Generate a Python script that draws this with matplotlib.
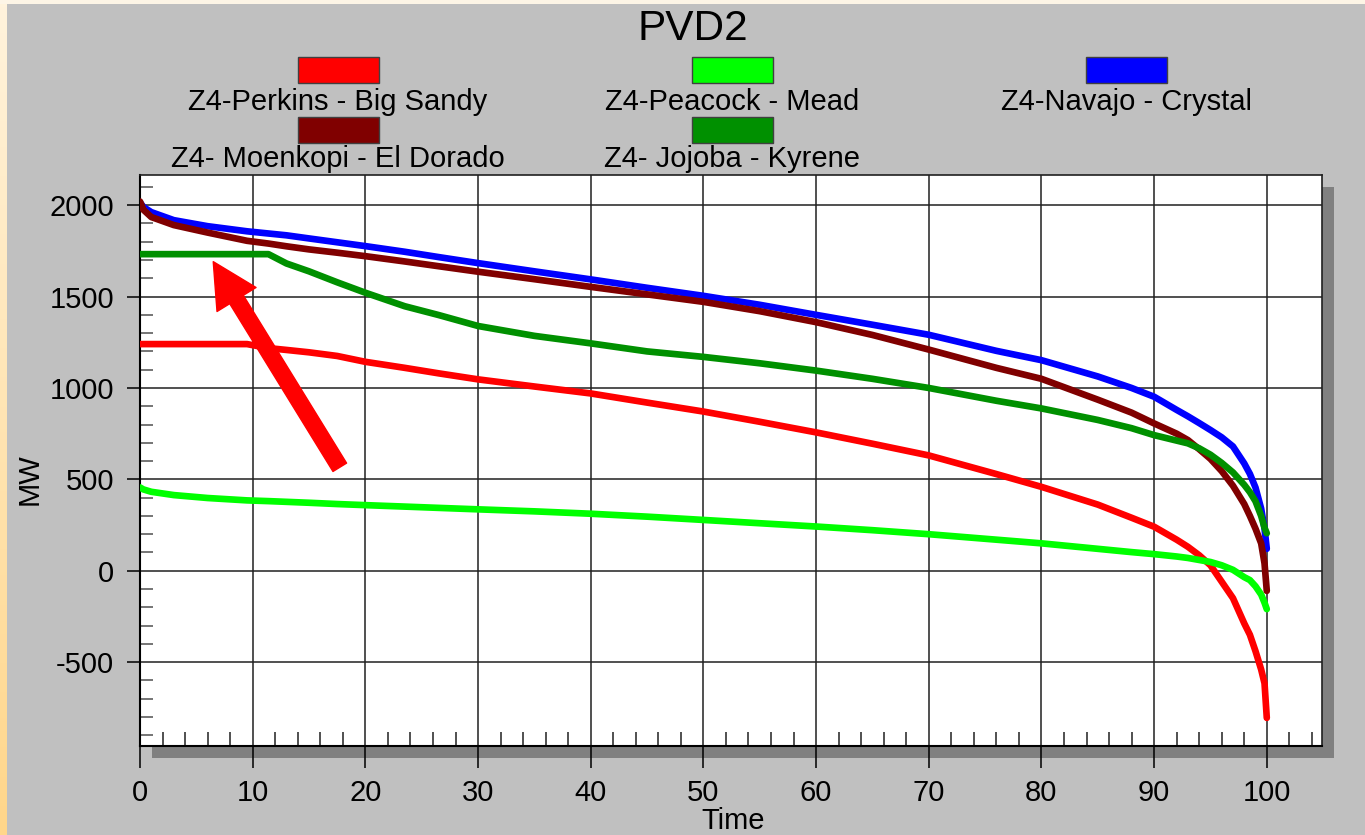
import numpy as np
import matplotlib
matplotlib.use("Agg")
import matplotlib.pyplot as plt
from matplotlib.patches import Rectangle
from matplotlib.ticker import MultipleLocator
from matplotlib.colors import LinearSegmentedColormap

plt.rcParams['font.family'] = ['Liberation Sans', 'DejaVu Sans']
plt.rcParams['axes.unicode_minus'] = False

# ---------------- data ----------------
time_pct = [0, 0.3, 1, 3, 6, 9.5, 11.4, 13, 15, 17.5, 20, 23.5, 26.5, 30, 35, 40,
            45, 50, 55, 60, 65, 70, 76, 80, 85, 88, 90, 92, 93, 94, 95, 96, 97,
            98, 98.5, 99, 99.5, 99.8, 100]

perkins_big_sandy = [1240, 1240, 1240, 1240, 1240, 1240, 1218, 1208, 1195, 1175,
                     1143, 1110, 1080, 1047, 1008, 970, 920, 871, 815, 757, 695,
                     631, 529, 459, 362, 290, 241, 170, 131, 85, 30, -60, -150,
                     -288, -350, -440, -540, -616, -805]

peacock_mead = [456, 445, 432, 414, 398, 385, 381, 377, 372, 365, 359, 351, 344,
                336, 325, 312, 296, 278, 260, 242, 222, 200, 170, 150, 120, 102,
                91, 78, 70, 59, 48, 30, 5, -35, -51, -85, -130, -175, -210]

navajo_crystal = [2015, 1990, 1962, 1918, 1885, 1857, 1845, 1835, 1818, 1797,
                  1776, 1745, 1716, 1683, 1638, 1594, 1548, 1504, 1455, 1400,
                  1346, 1291, 1203, 1152, 1063, 1000, 952, 880, 845, 808, 770,
                  730, 680, 587, 530, 455, 340, 230, 120]

moenkopi_el_dorado = [2020, 1975, 1935, 1891, 1850, 1805, 1790, 1775, 1758, 1740,
                      1721, 1692, 1666, 1636, 1595, 1553, 1512, 1471, 1420, 1360,
                      1290, 1210, 1110, 1050, 936, 865, 806, 750, 715, 665, 612,
                      545, 465, 365, 300, 230, 150, 40, -110]

jojoba_kyrene = [1732, 1732, 1732, 1732, 1732, 1732, 1732, 1681, 1638, 1578,
                 1521, 1447, 1399, 1339, 1285, 1244, 1200, 1170, 1135, 1095,
                 1050, 1000, 930, 888, 825, 780, 742, 712, 697, 670, 635, 590,
                 538, 470, 430, 380, 300, 235, 205]

series_names = ["Z4-Perkins - Big Sandy", "Z4-Peacock - Mead", "Z4-Navajo - Crystal",
                "Z4- Moenkopi - El Dorado", "Z4- Jojoba - Kyrene"]
series_values = [perkins_big_sandy, peacock_mead, navajo_crystal,
                 moenkopi_el_dorado, jojoba_kyrene]
series_colors = ["#ff0000", "#00ff00", "#0000ff", "#800000", "#009000"]

x_ticks = [0, 10, 20, 30, 40, 50, 60, 70, 80, 90, 100]
y_ticks = [-500, 0, 500, 1000, 1500, 2000]

# ---------------- figure ----------------
W, H = 1365, 835
fig = plt.figure(figsize=(W / 100, H / 100), dpi=100)
fig.patch.set_facecolor("#c0c0c0")

# decorative frame: cream top strip and orange gradient on the left
fig.patches.append(Rectangle((0, 1 - 4 / H), 1, 4 / H, transform=fig.transFigure,
                             facecolor="#fdf5e6", edgecolor="none", zorder=-5))
gax = fig.add_axes([0, 0, 7 / W, 1 - 4 / H], zorder=-5)
grad = np.linspace(0, 1, 256).reshape(-1, 1)
cmap = LinearSegmentedColormap.from_list("g", ["#fff3dc", "#ffd68a"])
gax.imshow(grad, aspect="auto", cmap=cmap, extent=[0, 1, 0, 1], origin="upper")
gax.set_axis_off()

# main axes
L, R = 140 / W, 1322 / W
B, T = 1 - 745.7 / H, 1 - 175 / H
ax = fig.add_axes([L, B, R - L, T - B])
ax.set_facecolor("white")

# drop shadow
fig.patches.append(Rectangle((L + 12 / W, B - 12 / H), R - L, T - B,
                             transform=fig.transFigure, facecolor="#808080",
                             edgecolor="none", zorder=-1))

for i, (vals, col) in enumerate(zip(series_values, series_colors)):
    ax.plot(time_pct, vals, color=col, lw=4.8, solid_capstyle="round",
            solid_joinstyle="round", zorder=3 + i, label=series_names[i])

ax.set_xlim(0, 104.9)
ax.set_ylim(-957, 2165)

ax.set_xticks(x_ticks)
ax.set_yticks(y_ticks)
ax.xaxis.set_minor_locator(MultipleLocator(2))
ax.yaxis.set_minor_locator(MultipleLocator(100))

ax.grid(True, which="major", color="#202020", lw=1.1, zorder=1)
ax.set_axisbelow(True)

ax.tick_params(axis="x", which="major", direction="out", length=16, width=1.1,
               color="black", labelsize=21, pad=8)
ax.tick_params(axis="x", which="minor", direction="in", length=10, width=1.1,
               color="#202020")
ax.tick_params(axis="y", which="major", direction="out", length=9.5, width=1.1,
               color="black", labelsize=21, pad=9)
ax.tick_params(axis="y", which="minor", direction="in", length=9.5, width=1.1,
               color="#505050")

for s in ["top", "right"]:
    ax.spines[s].set_color("#202020")
    ax.spines[s].set_linewidth(1.2)
for s in ["left", "bottom"]:
    ax.spines[s].set_color("black")
    ax.spines[s].set_linewidth(1.5)

ax.set_xlabel("Time", fontsize=21)
ax.xaxis.set_label_coords((733 - 140) / 1182, (745.7 - 821) / 570.7)
ax.xaxis.label.set_va("center")
ax.set_ylabel("MW", fontsize=21)
ax.yaxis.set_label_coords((30 - 140) / 1182, (745.7 - 479) / 570.7)
ax.yaxis.label.set_va("center")
ax.yaxis.label.set_ha("center")

# red annotation arrow
ax.annotate("", xy=(6.5, 1691), xytext=(17.73, 566),
            arrowprops=dict(arrowstyle="simple,head_length=3.2,head_width=3.3,tail_width=1.15",
                            color="#ff0000", shrinkA=0, shrinkB=0, mutation_scale=10),
            zorder=10)

# title
fig.text(693 / W, 1 - 40 / H, "PVD2", fontsize=30.5, ha="center", va="baseline")

# legend (swatch above label, 3 columns x 2 rows)
col_cx = [338, 732, 1126.5]
sw_w, sw_h = 81, 26
row_sw_top = [57.3, 116.7]
row_base = [110, 167]
for i, (name, col) in enumerate(zip(series_names, series_colors)):
    r, c = (0, i) if i < 3 else (1, i - 3)
    cx = col_cx[c]
    fig.patches.append(Rectangle(((cx - sw_w / 2) / W, 1 - (row_sw_top[r] + sw_h) / H),
                                 sw_w / W, sw_h / H, transform=fig.transFigure,
                                 facecolor=col, edgecolor="#404040", lw=1.0))
    fig.text(cx / W, 1 - row_base[r] / H, name, fontsize=21, ha="center",
             va="baseline")

fig.savefig("out.png", dpi=100, facecolor=fig.get_facecolor())
